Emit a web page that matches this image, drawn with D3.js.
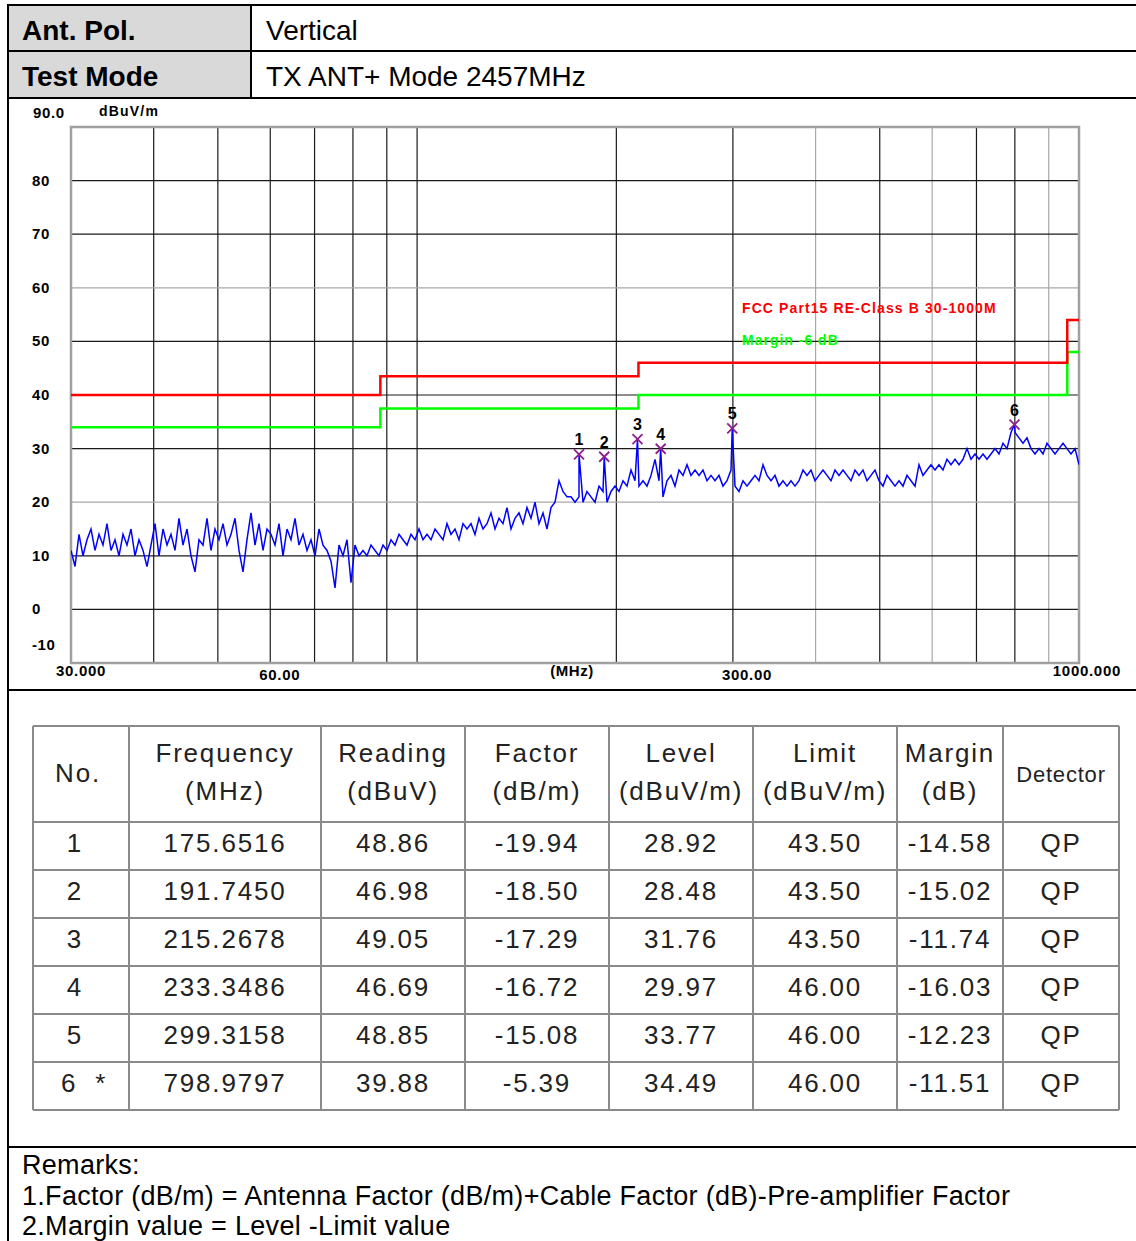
<!DOCTYPE html>
<html>
<head>
<meta charset="utf-8">
<script src="https://cdn.jsdelivr.net/npm/d3@7"></script>
<style>
body { margin: 0; background: #fff; }
svg text { font-family: "Liberation Sans", Arial, sans-serif; }
</style>
</head>
<body>
<div id="page"></div>
<script>
const W = 1136, H = 1241;

// header rows
const headerLabels = ["Ant. Pol.", "Test Mode"];
const headerValues = ["Vertical", "TX ANT+ Mode 2457MHz"];

// chart axes
const yGrid = [80, 70, 60, 50, 40, 30, 20, 10, 0];
const yLabels = ["90.0", "80", "70", "60", "50", "40", "30", "20", "10", "0", "-10"];
const yLabelValues = [90, 80, 70, 60, 50, 40, 30, 20, 10, 0, -10];
const xGrid = [40, 50, 60, 70, 80, 90, 100, 200, 300, 400, 500, 600, 700, 800, 900];
const xLabelValues = [30, 60, 300, 1000];
const xLabels = ["30.000", "60.00", "300.00", "1000.000"];
const lightGridX = [400, 600, 900];
const lightGridY = [60, 20];

// limit (FCC Part15 class B) and margin lines
const limitFreq = [30, 88, 216, 960, 1000];
const limitLevel = [40, 43.5, 46, 54];
const marginOffset = -6;
const limitName = "FCC Part15 RE-Class B 30-1000M";
const marginName = "Margin -6 dB";

// measured trace (sweep 30-1000 MHz, log spaced)
const sweepStart = 30, sweepStop = 1000;
const traceLevel = [
  11, 8, 14, 10, 13, 15, 11, 14, 12, 16, 11, 13, 10, 14, 12, 15, 10, 13, 11, 8,
  12, 16, 10, 15, 12, 14, 11, 17, 12, 15, 10, 7, 13, 12, 17, 11, 15, 13, 16, 12,
  14, 17, 11, 7, 13, 18, 12, 16, 11, 15, 14, 12, 16, 10, 15, 13, 17, 12, 14, 11,
  13, 10, 15, 12, 11, 9, 4, 12, 10, 13, 5, 12, 10, 11, 10, 12, 11, 10, 12, 11,
  13, 12, 14, 13, 12, 14, 13, 15, 13, 14, 13, 15, 14, 13, 16, 14, 15, 13, 16, 15,
  16, 14, 17, 15, 16, 18, 15, 17, 16, 19, 15, 17, 18, 16, 19, 17, 20, 16, 18, 15,
  19, 20, 24, 22, 21, 21, 20, 21, 20, 22, 21, 20, 23, 22, 20, 22, 23, 22, 24, 23,
  26, 24, 23, 24, 23, 25, 28, 24, 21, 24, 25, 23, 26, 25, 27, 25, 26, 25, 26, 24,
  25, 24, 25, 23, 24, 26, 23, 22, 24, 23, 24, 25, 24, 27, 25, 24, 25, 23, 24, 23,
  24, 23, 24, 26, 25, 26, 24, 25, 26, 25, 24, 26, 25, 26, 25, 24, 26, 25, 26, 24,
  25, 26, 24, 23, 25, 24, 23, 24, 23, 25, 24, 23, 27, 25, 26, 27, 26, 27, 26, 28,
  27, 28, 27, 28, 30, 28, 29, 28, 29, 28, 29, 30, 29, 31, 30, 33, 33, 32, 31, 32,
  30, 29, 30, 29, 31, 30, 29, 30, 31, 30, 29, 30, 27
];

// final measurement table
const colTitle = ["No.", "Frequency", "Reading", "Factor", "Level", "Limit", "Margin", "Detector"];
const colUnit = ["", "(MHz)", "(dBuV)", "(dB/m)", "(dBuV/m)", "(dBuV/m)", "(dB)", ""];
const markerNo = ["1", "2", "3", "4", "5", "6"];
const markerNote = ["", "", "", "", "", "*"];
const markerFreq = [175.6516, 191.7450, 215.2678, 233.3486, 299.3158, 798.9797];
const markerReading = [48.86, 46.98, 49.05, 46.69, 48.85, 39.88];
const markerFactor = [-19.94, -18.50, -17.29, -16.72, -15.08, -5.39];
const markerLevel = [28.92, 28.48, 31.76, 29.97, 33.77, 34.49];
const markerLimit = [43.50, 43.50, 43.50, 46.00, 46.00, 46.00];
const markerMargin = [-14.58, -15.02, -11.74, -16.03, -12.23, -11.51];
const markerDetector = ["QP", "QP", "QP", "QP", "QP", "QP"];

const remarks = [
  "Remarks:",
  "1.Factor (dB/m) = Antenna Factor (dB/m)+Cable Factor (dB)-Pre-amplifier Factor",
  "2.Margin value = Level -Limit value"
];

const svg = d3.select("#page").append("svg")
  .attr("width", W).attr("height", H)
  .attr("xmlns", "http://www.w3.org/2000/svg");

// ---------- header block ----------
svg.append("rect").attr("x", 9).attr("y", 6).attr("width", 242).attr("height", 92).attr("fill", "#d9d9d9");
const rowY = [5, 51, 98];
headerLabels.forEach((t, i) => {
  svg.append("text").attr("x", 22).attr("y", rowY[i] + 35)
    .attr("font-size", 28).attr("font-weight", "bold").text(t);
  svg.append("text").attr("x", 266).attr("y", rowY[i] + 35)
    .attr("font-size", 28).text(headerValues[i]);
});

function hline(y, x1, x2, color, w) {
  svg.append("line").attr("x1", x1).attr("x2", x2).attr("y1", y).attr("y2", y)
    .attr("stroke", color).attr("stroke-width", w);
}
function vline(x, y1, y2, color, w) {
  svg.append("line").attr("x1", x).attr("x2", x).attr("y1", y1).attr("y2", y2)
    .attr("stroke", color).attr("stroke-width", w);
}
hline(5, 7, W, "#000", 2);
hline(51, 8, W, "#000", 2);
hline(98, 8, W, "#000", 2);
hline(690, 8, W, "#000", 2);
hline(1147, 8, W, "#000", 2);
vline(8, 4, H, "#000", 2);
vline(251, 5, 98, "#000", 2);

// ---------- chart ----------
const x = d3.scaleLog().domain([30, 1000]).range([71, 1079]);
const y = d3.scaleLinear().domain([-10, 90]).range([663, 127]);

const chart = svg.append("g");

chart.selectAll(".gx").data(xGrid).enter().append("line")
  .attr("x1", d => x(d)).attr("x2", d => x(d)).attr("y1", y(90)).attr("y2", y(-10))
  .attr("stroke", d => lightGridX.includes(d) ? "#a8a8a8" : "#1a1a1a").attr("stroke-width", 1.2);
chart.selectAll(".gy").data(yGrid).enter().append("line")
  .attr("x1", x(30)).attr("x2", x(1000)).attr("y1", d => y(d)).attr("y2", d => y(d))
  .attr("stroke", d => lightGridY.includes(d) ? "#a8a8a8" : "#1a1a1a").attr("stroke-width", 1.2);

chart.append("rect")
  .attr("x", x(30)).attr("y", y(90)).attr("width", x(1000) - x(30)).attr("height", y(-10) - y(90))
  .attr("fill", "none").attr("stroke", "#a0a0a0").attr("stroke-width", 2.5);

// y labels
chart.selectAll(".yl").data(yLabels).enter().append("text")
  .attr("x", (d, i) => i === 0 ? 33 : 32)
  .attr("y", (d, i) => {
    const v = yLabelValues[i];
    if (v === 90) return y(v) - 9;
    if (v === -10) return y(v) - 13;
    return y(v) + 5;
  })
  .attr("font-size", 15).attr("font-weight", "bold").attr("letter-spacing", 0.6)
  .text(d => d);
chart.append("text").attr("x", 99).attr("y", 116)
  .attr("font-size", 14).attr("font-weight", "bold").attr("letter-spacing", 1.2).text("dBuV/m");

// x labels
chart.selectAll(".xl").data(xLabels).enter().append("text")
  .attr("x", (d, i) => {
    const v = xLabelValues[i];
    if (v === 30) return x(v) - 15;
    if (v === 1000) return x(v) + 42;
    return x(v) - 11;
  })
  .attr("y", (d, i) => (i === 0 || i === 3) ? 676 : 680)
  .attr("text-anchor", (d, i) => i === 3 ? "end" : "start")
  .attr("font-size", 15).attr("font-weight", "bold").attr("letter-spacing", 0.7)
  .text(d => d);
chart.append("text").attr("x", (x(30) + x(1000)) / 2 - 3).attr("y", 676)
  .attr("text-anchor", "middle").attr("font-size", 15).attr("font-weight", "bold")
  .attr("letter-spacing", 0.5).text("(MHz)");

// limit and margin steps
const limitSteps = [];
limitLevel.forEach((v, i) => {
  limitSteps.push({ f: limitFreq[i], v: v });
  limitSteps.push({ f: limitFreq[i + 1], v: v });
});
const stepLine = d3.line().x(d => x(d.f)).y(d => y(d.v));
chart.append("path").datum(limitSteps.map(d => ({ f: d.f, v: d.v + marginOffset })))
  .attr("d", stepLine).attr("fill", "none").attr("stroke", "#00ff00").attr("stroke-width", 2.5);
chart.append("path").datum(limitSteps)
  .attr("d", stepLine).attr("fill", "none").attr("stroke", "#ff0000").attr("stroke-width", 2.5);

chart.append("text").attr("x", 742).attr("y", 313).attr("fill", "#ff0000")
  .attr("font-size", 14).attr("font-weight", "bold").attr("letter-spacing", 1.1).text(limitName);
chart.append("text").attr("x", 742).attr("y", 345).attr("fill", "#00ff00")
  .attr("font-size", 14).attr("font-weight", "bold").attr("letter-spacing", 1.0).text(marginName);

// trace
const n = traceLevel.length;
const sweep = traceLevel.map((v, i) => ({
  f: sweepStart * Math.pow(sweepStop / sweepStart, i / (n - 1)), v: v
}));
const trace = sweep.concat(markerFreq.map((f, i) => ({ f: f, v: markerLevel[i] })))
  .sort((a, b) => a.f - b.f);
chart.append("clipPath").attr("id", "plotClip").append("rect")
  .attr("x", x(30)).attr("y", y(90)).attr("width", x(1000) - x(30)).attr("height", y(-10) - y(90));
chart.append("path").datum(trace)
  .attr("clip-path", "url(#plotClip)")
  .attr("d", d3.line().x(d => x(d.f)).y(d => y(d.v)))
  .attr("fill", "none").attr("stroke", "#0000ff").attr("stroke-width", 1.5);

// markers
const mk = chart.selectAll(".mk").data(markerFreq).enter().append("g")
  .attr("transform", (d, i) => "translate(" + x(d) + "," + y(markerLevel[i]) + ")");
mk.append("path").attr("d", "M-5,-5L5,5M-5,5L5,-5")
  .attr("stroke", "#8e1f8e").attr("stroke-width", 1.8);
mk.append("text").attr("y", -9).attr("text-anchor", "middle")
  .attr("font-size", 16).attr("font-weight", "bold")
  .text((d, i) => markerNo[i]);

// ---------- measurement table ----------
const colX = [33, 129, 321, 465, 609, 753, 897, 1003, 1119];
const tableTop = 726, headH = 96, rowH = 48;
const nRows = markerNo.length;
const tableBottom = tableTop + headH + rowH * nRows;
const table = svg.append("g");

const loc = d3.formatLocale({ decimal: ".", thousands: ",", grouping: [3], currency: ["", ""], minus: "-" });
const fmt2 = loc.format(".2f"), fmt4 = loc.format(".4f");
const cells = markerNo.map((no, i) => [
  markerNote[i] ? no + "  " + markerNote[i] : no,
  fmt4(markerFreq[i]),
  fmt2(markerReading[i]),
  fmt2(markerFactor[i]),
  fmt2(markerLevel[i]),
  fmt2(markerLimit[i]),
  fmt2(markerMargin[i]),
  markerDetector[i]
]);

colTitle.forEach((t, c) => {
  const cx = (colX[c] + colX[c + 1]) / 2;
  if (colUnit[c]) {
    table.append("text").attr("x", cx).attr("y", tableTop + 36).attr("text-anchor", "middle")
      .attr("font-size", 26).attr("letter-spacing", 1.8).attr("fill", "#222").text(t);
    table.append("text").attr("x", cx).attr("y", tableTop + 74).attr("text-anchor", "middle")
      .attr("font-size", 26).attr("letter-spacing", 1.8).attr("fill", "#222").text(colUnit[c]);
  } else {
    table.append("text").attr("x", c === 0 ? cx - 3 : cx).attr("y", tableTop + 56).attr("text-anchor", "middle")
      .attr("font-size", c === 7 ? 22 : 26).attr("letter-spacing", c === 7 ? 0.8 : 1.8)
      .attr("fill", "#222").text(t);
  }
});

cells.forEach((row, r) => {
  row.forEach((t, c) => {
    let dx = 0;
    if (c === 0) dx = markerNote[r] ? 3 : -6;
    table.append("text")
      .attr("x", (colX[c] + colX[c + 1]) / 2 + dx)
      .attr("y", tableTop + headH + rowH * r + 30)
      .attr("text-anchor", "middle").attr("font-size", 26).attr("letter-spacing", 1.8)
      .attr("fill", "#222").style("white-space", "pre").text(t);
  });
});

const rowLines = [tableTop, tableTop + headH];
for (let r = 1; r <= nRows; r++) rowLines.push(tableTop + headH + rowH * r);
rowLines.forEach(yy => {
  table.append("line").attr("x1", colX[0]).attr("x2", colX[colX.length - 1])
    .attr("y1", yy).attr("y2", yy).attr("stroke", "#8a8a8a").attr("stroke-width", 2);
});
colX.forEach(xx => {
  table.append("line").attr("x1", xx).attr("x2", xx)
    .attr("y1", tableTop).attr("y2", tableBottom).attr("stroke", "#8a8a8a").attr("stroke-width", 2);
});

// ---------- remarks ----------
remarks.forEach((t, i) => {
  svg.append("text").attr("x", 22).attr("y", 1174 + i * 30.5)
    .attr("font-size", 27).attr("letter-spacing", 0.3).text(t);
});
</script>
</body>
</html>
